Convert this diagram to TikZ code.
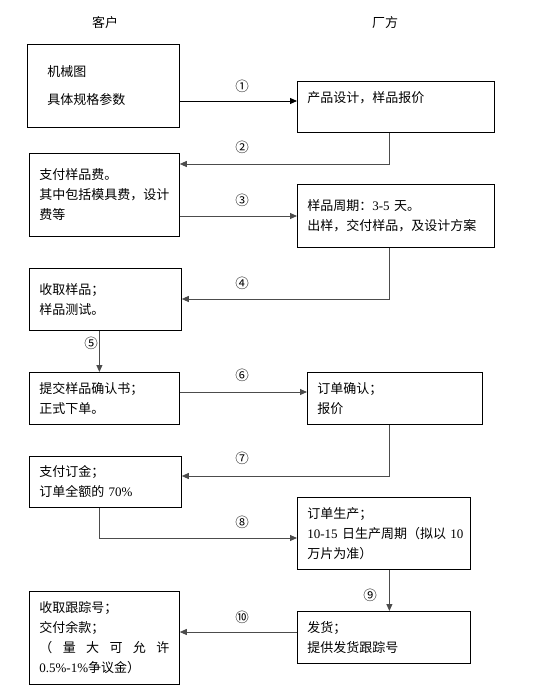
\documentclass[tikz,border=0pt]{standalone}
\usepackage{fontspec}
\setmainfont{Noto Sans CJK SC}
\newfontfamily\latin{Liberation Serif}
\usetikzlibrary{arrows.meta}

\begin{document}
\begin{tikzpicture}[x=1pt,y=-1pt,
		font=\fontsize{13}{20}\selectfont,
		box/.style={draw,line width=0.8pt,anchor=north west,align=left,inner xsep=10pt,inner ysep=0pt},
		link/.style={draw=black!70,line width=0.9pt,-{Triangle[length=7pt,width=6pt]}},
		num/.style={font=\fontsize{13.5}{13.5}\selectfont,inner sep=0pt}]
	\useasboundingbox (0,0) rectangle (540,699);
	\node (kehu) at (105,23) {客户};
	\node (changfang) at (385,23) {厂方};
	\node[box,inner xsep=20pt,text width=112pt,minimum width=152pt,minimum height=83pt] (b1) at (27,44) {机械图\\[8pt]具体规格参数};
	\node[box,text width=177pt,minimum width=197pt,minimum height=51pt] (b2) at (297,81) {产品设计，样品报价\\ \mbox{}};
	\node[box,text width=130pt,minimum width=150pt,minimum height=83pt] (b3) at (29,153) {支付样品费。\\其中包括模具费，设计\\费等};
	\node[box,text width=177pt,minimum width=197pt,minimum height=63pt] (b4) at (297,184) {样品周期：{\latin 3-5} 天。\\出样，交付样品，及设计方案};
	\node[box,text width=132pt,minimum width=152pt,minimum height=62pt] (b5) at (29,268) {收取样品；\\样品测试。};
	\node[box,text width=130pt,minimum width=150pt,minimum height=52pt] (b6) at (29,372) {提交样品确认书；\\正式下单。};
	\node[box,text width=155pt,minimum width=175pt,minimum height=52pt] (b7) at (307,372) {订单确认；\\报价};
	\node[box,text width=132pt,minimum width=152pt,minimum height=51pt] (b8) at (29,456) {支付订金；\\订单全额的 {\latin 70\%}};
	\node[box,text width=153pt,minimum width=173pt,minimum height=72pt] (b9) at (297,497) {订单生产；\\\mbox{{\latin 10-15} 日生产周期（拟以 {\latin 10}}\\万片为准）};
	\node[box,text width=153pt,minimum width=173pt,minimum height=52pt] (b10) at (297,611) {发货；\\提供发货跟踪号};
	\node[box,text width=130pt,minimum width=150pt,minimum height=93pt] (b11) at (29,591) {收取跟踪号；\\交付余款；\\\makebox[\linewidth]{（\hfill 量\hfill 大\hfill 可\hfill 允\hfill 许}\\{\latin 0.5\%-1\%}争议金）};
	\draw[link,draw=black] ([yshift=-57pt]b1.north east) -- ([yshift=-20pt]b2.north west);
	\draw[link] ([xshift=-6.5pt]b2.south) |- ([yshift=-11pt]b3.north east);
	\draw[link] ([yshift=-63pt]b3.north east) -- ([yshift=-32pt]b4.north west);
	\draw[link] ([xshift=-6.5pt]b4.south) |- ([yshift=-31pt]b5.north east);
	\draw[link] ([xshift=-6pt]b5.south) -- ([xshift=-6pt]b5.south |- b6.north);
	\draw[link] ([yshift=-20pt]b6.north east) -- ([yshift=-20pt]b7.north west);
	\draw[link] ([xshift=-5.5pt]b7.south) |- ([yshift=-20pt]b8.north east);
	\draw[link] ([xshift=-6pt]b8.south) |- ([yshift=-41pt]b9.north west);
	\draw[link] ([xshift=5.5pt]b9.south) -- ([xshift=5.5pt]b9.south |- b10.north);
	\draw[link] ([yshift=-21pt]b10.north west) -- ([yshift=-41pt]b11.north east);
	\node[num] (n1) at (242,86) {①};
	\node[num] (n2) at (242,147) {②};
	\node[num] (n3) at (242,200) {③};
	\node[num] (n4) at (242,283) {④};
	\node[num] (n5) at (91,343) {⑤};
	\node[num] (n6) at (242,375) {⑥};
	\node[num] (n7) at (242,458) {⑦};
	\node[num] (n8) at (242,522) {⑧};
	\node[num] (n9) at (370,595) {⑨};
	\node[num] (n10) at (242,617) {⑩};
\end{tikzpicture}
\end{document}
